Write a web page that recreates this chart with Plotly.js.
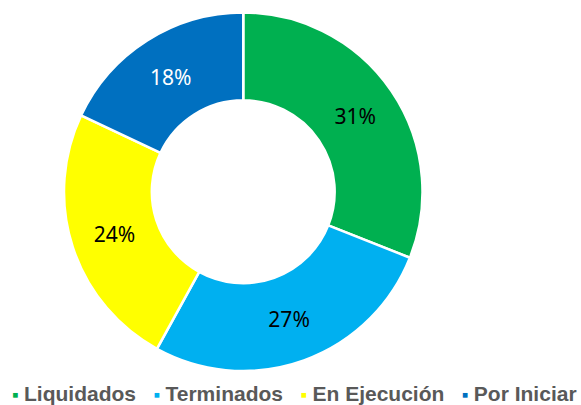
<!DOCTYPE html>
<html>
<head>
<meta charset="utf-8">
<script src="https://cdn.plot.ly/plotly-3.0.1.min.js"></script>
<style>html,body{margin:0;padding:0;background:#fff;}#chart{width:581px;height:405px;}</style>
</head>
<body>
<div id="chart"></div>
<script>
const categories = ["Liquidados", "Terminados", "En Ejecución", "Por Iniciar"];
const values = [31, 27, 24, 18];
const colors = ["#00B050", "#00B0F0", "#FFFF00", "#0070C0"];
const textColors = ["#000000", "#000000", "#000000", "#FFFFFF"];

const trace = {
  type: "pie",
  labels: categories,
  values: values,
  sort: false,
  direction: "clockwise",
  rotation: 0,
  hole: 0.51,
  marker: {colors: colors, line: {color: "#FFFFFF", width: 2.5}},
  textinfo: "percent",
  texttemplate: "%{percent:.0%}",
  textposition: "inside",
  insidetextorientation: "horizontal",
  insidetextfont: {family: "Noto Sans, Open Sans, sans-serif", size: 21, color: textColors},
  domain: {x: [64/581, 422.5/581], y: [1 - 371/405, 1 - 12.5/405]},
  hoverinfo: "label+percent",
  showlegend: false
};

// Legend built from the categories and colours, Excel style (small square + bold gray label)
const legendText = categories.map((c, i) =>
  "<span style='color:" + colors[i] + ";font-size:19px'>▪</span>\u2005" + c
).join("\u2002\u2004");

const layout = {
  width: 581,
  height: 405,
  margin: {l: 0, r: 0, t: 0, b: 0},
  paper_bgcolor: "#FFFFFF",
  showlegend: false,
  annotations: [{
    xref: "paper", yref: "paper",
    x: 294.5/581, xanchor: "center",
    y: 1 - 393/405, yanchor: "middle",
    showarrow: false,
    text: legendText,
    font: {family: "Liberation Sans, Arial, sans-serif", size: 21, color: "#595959", weight: "bold"}
  }]
};

Plotly.newPlot("chart", [trace], layout, {displayModeBar: false, staticPlot: true});
</script>
</body>
</html>
